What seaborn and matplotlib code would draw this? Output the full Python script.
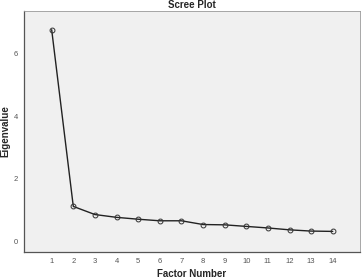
import matplotlib
matplotlib.use("Agg")
import matplotlib.pyplot as plt
import seaborn as sns
import pandas as pd

factors = [1, 2, 3, 4, 5, 6, 7, 8, 9, 10, 11, 12, 13, 14]
eigenvalues = [6.77, 1.11, 0.85, 0.76, 0.70, 0.65, 0.65, 0.53, 0.52, 0.47, 0.42, 0.36, 0.32, 0.31]
yticks = [0, 2, 4, 6]

sns.set_style("white")
plt.rcParams['font.family'] = ['Liberation Sans', 'DejaVu Sans']

df = pd.DataFrame({"Factor Number": factors, "Eigenvalue": eigenvalues})

fig = plt.figure(figsize=(3.64, 2.8), dpi=100)
ax = fig.add_axes([24/364, 1 - 252/280, 336/364, 241/280])
ax.set_facecolor("#f0f0f0")

sns.lineplot(data=df, x="Factor Number", y="Eigenvalue", ax=ax, color="#222222",
             linewidth=1.0, marker="o", markersize=3.5, markerfacecolor="none",
             markeredgecolor="#333333", markeredgewidth=0.7)

ax.set_xlim(-0.28, 15.26)
ax.set_ylim(-0.35, 7.37)
ax.set_xticks(factors)
ax.set_xticklabels([str(f) for f in factors])
ax.set_yticks(yticks)
ax.tick_params(axis="both", labelsize=5.5, length=2.5, width=0.6, colors="#444444", pad=2)
ax.tick_params(axis="both", labelcolor="#555555")

for s in ["left", "bottom"]:
    ax.spines[s].set_color("#555555")
    ax.spines[s].set_linewidth(0.9)
for s in ["top", "right"]:
    ax.spines[s].set_color("#999999")
    ax.spines[s].set_linewidth(0.6)

ax.set_xlabel("Factor Number", fontsize=7, fontweight="bold")
ax.set_ylabel("Eigenvalue", fontsize=7, fontweight="bold")
ax.xaxis.set_label_coords(0.5, -0.091)
ax.yaxis.set_label_coords(-0.054, 0.502)
ax.xaxis.label.set_va("center")
ax.yaxis.label.set_va("center")
ax.set_title("Scree Plot", fontsize=7, fontweight="bold", pad=2)

fig.savefig("out.png", dpi=100)
